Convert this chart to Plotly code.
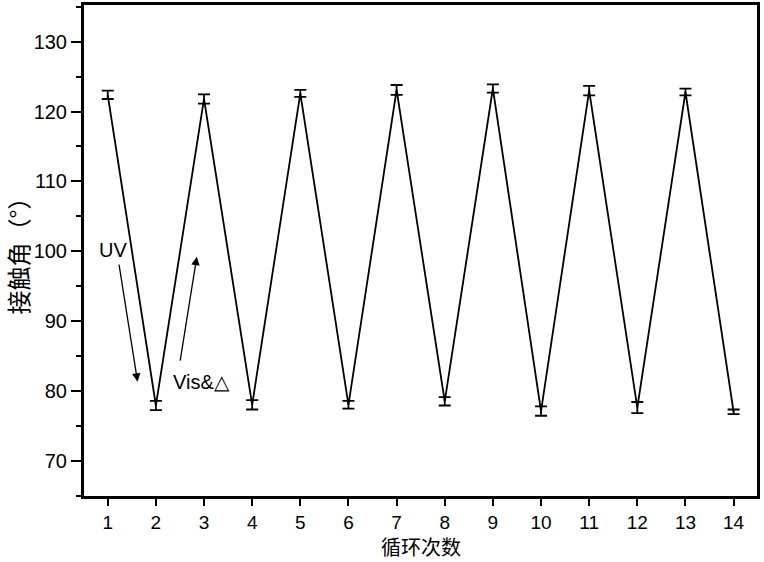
import plotly.graph_objects as go

cycles = list(range(1, 15))
angles = [122.4, 77.9, 121.8, 78.0, 122.6, 78.0, 123.1, 78.5, 123.3, 77.1, 123.0, 77.6, 122.8, 77.0]
errors = [0.6, 0.65, 0.67, 0.67, 0.5, 0.55, 0.7, 0.6, 0.6, 0.67, 0.67, 0.8, 0.48, 0.33]
x_ticks = [str(i) for i in cycles]
y_ticks = [70, 80, 90, 100, 110, 120, 130]

BLACK = "black"
fig = go.Figure()
fig.add_trace(go.Scatter(
    x=cycles, y=angles, mode="lines",
    line=dict(color=BLACK, width=1.8),
    error_y=dict(type="data", array=errors, color=BLACK, thickness=1.8, width=6),
    showlegend=False,
))

# arrows
fig.add_annotation(x=1.62, y=81.3, ax=1.23, ay=98.3, xref="x", yref="y", axref="x", ayref="y",
                   showarrow=True, arrowhead=2, arrowsize=1.3, arrowwidth=1.3, arrowcolor=BLACK, text="")
fig.add_annotation(x=2.85, y=99.2, ax=2.50, ay=84.1, xref="x", yref="y", axref="x", ayref="y",
                   showarrow=True, arrowhead=2, arrowsize=1.3, arrowwidth=1.3, arrowcolor=BLACK, text="")
fig.add_annotation(x=1.10, y=100.2, xref="x", yref="y", text="UV", showarrow=False,
                   font=dict(family="Liberation Sans, Arial", size=20, color=BLACK))
fig.add_annotation(x=2.95, y=81.3, xref="x", yref="y", text="Vis&amp;△", showarrow=False,
                   font=dict(family="Liberation Sans, Arial", size=20, color=BLACK))

# axis titles
fig.add_annotation(x=0.5, y=0, xref="paper", yref="paper", yanchor="middle", yshift=-50,
                   text="循环次数", showarrow=False,
                   font=dict(family="Noto Sans CJK SC", size=20, color=BLACK))
fig.add_annotation(x=0, y=0.5, xref="paper", yref="paper", xanchor="center", xshift=-67,
                   textangle=-90, text="接触角（°）", showarrow=False,
                   font=dict(family="Noto Sans CJK SC", size=24, color=BLACK))

fig.update_layout(
    width=764, height=562,
    margin=dict(l=84, r=7, t=5, b=66, autoexpand=False),
    paper_bgcolor="white", plot_bgcolor="white",
    font=dict(family="Liberation Sans, Arial", size=20, color=BLACK),
)
fig.update_xaxes(
    range=[0.507, 14.486], tickmode="array", tickvals=cycles, ticktext=x_ticks,
    ticks="outside", ticklen=7, tickwidth=2, tickcolor=BLACK,
    tickfont=dict(size=19),
    showline=True, linewidth=3, linecolor=BLACK, mirror=True, showgrid=False, zeroline=False,
    automargin=False,
)
fig.update_yaxes(
    range=[64.94, 135.26], tickmode="array", tickvals=y_ticks,
    ticks="outside", ticklen=10, tickwidth=2, tickcolor=BLACK,
    minor=dict(dtick=5, tick0=0, ticks="outside", ticklen=5, tickwidth=2, tickcolor=BLACK),
    showline=True, linewidth=3, linecolor=BLACK, mirror=True, showgrid=False, zeroline=False,
    automargin=False,
)

fig.write_html("out.html", config={"displayModeBar": False},
               post_script="document.body.style.margin='0';document.body.style.overflow='hidden';")
